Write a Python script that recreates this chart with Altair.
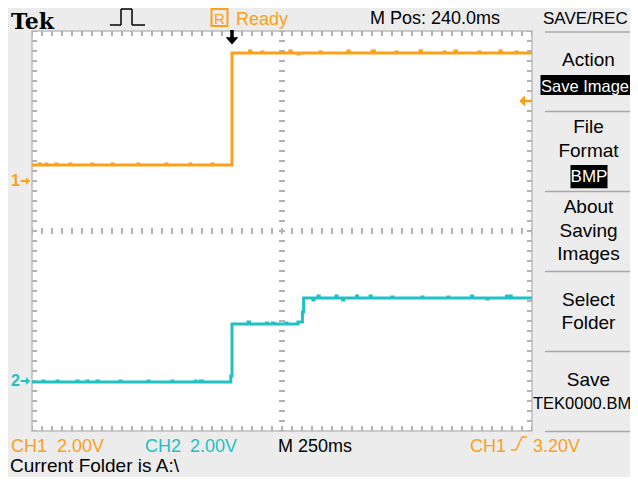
import altair as alt
import pandas as pd

TIME_DOMAIN = [-1000, 1500]          # ms, 250 ms/div, 10 div
DIV_DOMAIN = [0, 8]                  # vertical divisions
GRID_T = [-750, -500, -250, 0, 250, 500, 750, 1000, 1250]
GRID_DIV = [1, 2, 3, 4, 5, 6, 7]
VOLTS_PER_DIV = 2.0
CHANNELS = ["CH1", "CH2"]
GROUND_DIV = {"CH1": 5.0, "CH2": 1.0}
TRIG_TIME = [0]
TRIG_LEVEL_V = 3.2

ch1_t = [-1000, -962, -957, -930, -926, -880, -876, -810, -805, -700, -696,
         -600, -595, -470, -466, -330, -325, -210, -206, -100, -95,
         0, 88, 94, 150, 155, 290, 296, 330, 335, 440, 446, 580, 586,
         700, 712, 820, 826, 940, 948, 1060, 1066, 1115, 1122, 1235, 1240,
         1340, 1346, 1420, 1426, 1500]
ch1_v = [0.64, 0.68, 0.64, 0.68, 0.64, 0.68, 0.64, 0.68, 0.64, 0.68, 0.64,
         0.68, 0.64, 0.68, 0.64, 0.68, 0.64, 0.68, 0.64, 0.68, 0.64,
         5.12, 5.20, 5.12, 5.16, 5.12, 5.20, 5.12, 5.08, 5.12, 5.16, 5.12, 5.20, 5.12,
         5.20, 5.12, 5.16, 5.12, 5.20, 5.12, 5.16, 5.12, 5.20, 5.12, 5.16, 5.12,
         5.20, 5.12, 5.16, 5.12, 5.12]

ch2_t = [-1000, -945, -940, -875, -870, -775, -770, -725, -720, -675, -668,
         -560, -555, -420, -415, -300, -296, -185, -180, -160, -148, -6,
         0, 80, 88, 173, 178, 203, 210, 270, 275, 330, 352, 358,
         405, 410, 430, 436, 520, 525, 553, 558, 623, 628, 690, 696,
         800, 805, 950, 955, 1080, 1085, 1198, 1203, 1275, 1280,
         1373, 1378, 1390, 1396, 1500]
ch2_v = [-0.04, 0.00, -0.04, 0.00, -0.04, 0.00, -0.04, 0.00, -0.04, 0.00, -0.04,
         0.00, -0.04, 0.00, -0.04, 0.00, -0.04, 0.00, -0.04, 0.00, -0.04, 0.20,
         2.28, 2.36, 2.28, 2.32, 2.28, 2.32, 2.28, 2.32, 2.28, 2.36, 2.76, 3.32,
         3.24, 3.32, 3.40, 3.32, 3.40, 3.32, 3.24, 3.32, 3.40, 3.32, 3.40, 3.32,
         3.36, 3.32, 3.36, 3.32, 3.36, 3.32, 3.40, 3.32, 3.28, 3.32,
         3.40, 3.32, 3.40, 3.32, 3.32]

# ---------------- style ----------------
ORANGE = "#f9a11b"
CYAN = "#1fc1c3"
GRID = "#b2b2b2"
SEP = "#a8a8a8"
SANS = "Liberation Sans"
SERIF = "DejaVu Serif"
W, H = 500, 400
X0, Y0 = 32, 31          # page position of the graticule's top-left corner

RIGHT_ARROW = "M-1,-0.2L0,-0.2L0,-0.7L0.8,0L0,0.7L0,0.2L-1,0.2Z"
LEFT_ARROW = "M1,-0.2L0,-0.2L0,-0.85L-0.9,0L0,0.85L0,0.2L1,0.2Z"
DOWN_ARROW = "M-0.22,-1L0.22,-1L0.22,-0.1L0.8,-0.1L0,0.8L-0.8,-0.1L-0.22,-0.1Z"

rows = []
for ch, ts, vs in (("CH1", ch1_t, ch1_v), ("CH2", ch2_t, ch2_v)):
    for t, v in zip(ts, vs):
        rows.append({"ch": ch, "t": t, "v": v, "div": GROUND_DIV[ch] + v / VOLTS_PER_DIV})
traces_df = pd.DataFrame(rows)
ground_df = pd.DataFrame({"ch": CHANNELS, "label": ["1", "2"],
                          "div": [GROUND_DIV[c] for c in CHANNELS]})
trig_level_df = pd.DataFrame({"div": [GROUND_DIV["CH1"] + TRIG_LEVEL_V / VOLTS_PER_DIV]})
trig_time_df = pd.DataFrame({"t": TRIG_TIME})
dummy = pd.DataFrame({"a": [1]})

xs = alt.Scale(domain=TIME_DOMAIN, nice=False, zero=False)
ys = alt.Scale(domain=DIV_DOMAIN, nice=False, zero=False)
cs = alt.Scale(domain=CHANNELS, range=[ORANGE, CYAN])

grid_axis = dict(grid=True, labels=False, ticks=False, domain=False, title=None,
                 gridColor=GRID, gridWidth=2, gridDash=[2, 8], gridDashOffset=1)


def px(x):
    return alt.value(x - X0)


def py(y):
    return alt.value(y - Y0)


def label(txt, x, y, color="black", size=18, align="left", font=SANS, weight="normal"):
    return alt.Chart(dummy).mark_text(
        text=txt, align=align, baseline="alphabetic", fontSize=size, font=font,
        fontWeight=weight, color=color).encode(x=px(x), y=py(y))


def seg(x1, y1, x2, y2, color="black", width=1.5):
    return alt.Chart(dummy).mark_rule(color=color, strokeWidth=width).encode(
        x=px(x1), y=py(y1), x2=px(x2), y2=py(y2))


def box(x1, x2, y1, y2, fill="black", stroke=None, sw=0):
    kw = dict(fill=fill)
    if stroke:
        kw.update(stroke=stroke, strokeWidth=sw)
    return alt.Chart(dummy).mark_rect(**kw).encode(x=px(x1), x2=px(x2), y=py(y1), y2=py(y2))


layers = []

# graticule: edge ticks and centre cross ticks
dash = dict(strokeDash=[2, 8], strokeDashOffset=1, color=GRID)
layers.append(alt.Chart(dummy).mark_rule(strokeWidth=5, **dash).encode(
    x=alt.value(2.5), y=alt.value(0), y2=alt.value(H)))
layers.append(alt.Chart(dummy).mark_rule(strokeWidth=5, **dash).encode(
    x=alt.value(W - 2.5), y=alt.value(0), y2=alt.value(H)))
layers.append(alt.Chart(dummy).mark_rule(strokeWidth=5, **dash).encode(
    y=alt.value(2.5), x=alt.value(0), x2=alt.value(W)))
layers.append(alt.Chart(dummy).mark_rule(strokeWidth=5, **dash).encode(
    y=alt.value(H - 2.5), x=alt.value(0), x2=alt.value(W)))
layers.append(alt.Chart(dummy).mark_rule(strokeWidth=6, **dash).encode(
    x=alt.value(W / 2), y=alt.value(0), y2=alt.value(H)))
layers.append(alt.Chart(dummy).mark_rule(strokeWidth=6, **dash).encode(
    y=alt.value(H / 2), x=alt.value(0), x2=alt.value(W)))

# traces
layers.append(alt.Chart(traces_df).mark_line(
    interpolate="step-after", strokeWidth=3, strokeJoin="miter").encode(
    x=alt.X("t:Q", scale=xs, axis=alt.Axis(values=GRID_T, **grid_axis)),
    y=alt.Y("div:Q", scale=ys, axis=alt.Axis(values=GRID_DIV, **grid_axis)),
    color=alt.Color("ch:N", scale=cs, legend=None),
))

# ground markers
layers.append(alt.Chart(ground_df).mark_text(
    align="center", baseline="middle", fontSize=16, fontWeight="bold", font=SANS).encode(
    x=alt.value(15.5 - X0),
    y=alt.Y("div:Q", scale=ys, axis=None),
    text="label:N",
    color=alt.Color("ch:N", scale=cs, legend=None)))
layers.append(alt.Chart(ground_df).mark_point(
    shape=RIGHT_ARROW, filled=True, size=110, opacity=1, strokeWidth=0).encode(
    x=alt.value(26 - X0),
    y=alt.Y("div:Q", scale=ys, axis=None),
    color=alt.Color("ch:N", scale=cs, legend=None)))

# trigger level / position
layers.append(alt.Chart(trig_level_df).mark_point(
    shape=LEFT_ARROW, filled=True, size=169, opacity=1, strokeWidth=0, color=ORANGE).encode(
    x=alt.value(W - 7), y=alt.Y("div:Q", scale=ys, axis=None)))
layers.append(alt.Chart(trig_time_df).mark_point(
    shape=DOWN_ARROW, filled=True, size=256, opacity=1, strokeWidth=0, color="black").encode(
    x=alt.X("t:Q", scale=xs, axis=None), y=alt.value(7)))

# ---------------- top bar ----------------
layers.append(label("Tek", 11, 28.5, size=22, font=SERIF, weight="bold"))
layers += [seg(110, 25, 121, 25), seg(121, 25, 121, 9), seg(121, 9, 132, 9),
           seg(132, 9, 132, 25), seg(132, 25, 145, 25)]
layers.append(box(211.5, 227.5, 9, 26, fill="none", stroke=ORANGE, sw=2))
layers.append(label("R", 219.5, 23.5, color=ORANGE, size=15, align="center"))
layers.append(label("Ready", 236, 24.5, color=ORANGE))
layers.append(label("M Pos: 240.0ms", 370, 23.5))
layers.append(label("SAVE/REC", 543, 23.5, size=17))

# ---------------- side menu ----------------
for ysep in [32, 111.5, 191.5, 271.5, 351.5, 431.5]:
    layers.append(seg(545, ysep, 640, ysep, color=SEP, width=1.5))
MC = 588.5
layers.append(label("Action", MC, 66, size=19, align="center"))
layers.append(box(540.5, 640, 75, 95))
layers.append(label("Save Image", 541, 91.5, color="white", size=16.5))
layers.append(label("File", MC, 133, size=19, align="center"))
layers.append(label("Format", MC, 157, size=19, align="center"))
layers.append(box(570.5, 607.5, 165, 188.3))
layers.append(label("BMP", 589, 182, color="white", size=17, align="center"))
layers.append(label("About", MC, 213, size=19, align="center"))
layers.append(label("Saving", MC, 237, size=19, align="center"))
layers.append(label("Images", MC, 260, size=19, align="center"))
layers.append(label("Select", MC, 306, size=19, align="center"))
layers.append(label("Folder", MC, 329, size=19, align="center"))
layers.append(label("Save", MC, 386, size=19, align="center"))
layers.append(label("TEK0000.BM", 533, 409, size=16.5))

# ---------------- bottom status ----------------
layers.append(label("CH1", 11, 451.5, color=ORANGE))
layers.append(label("2.00V", 57, 451.5, color=ORANGE))
layers.append(label("CH2", 145, 451.5, color=CYAN))
layers.append(label("2.00V", 190, 451.5, color=CYAN))
layers.append(label("M 250ms", 278, 451.5))
layers.append(label("CH1", 470, 451.5, color=ORANGE))
layers += [seg(511, 450, 516, 450, color=ORANGE), seg(516, 450, 522, 437, color=ORANGE),
           seg(522, 437, 527, 437, color=ORANGE)]
layers.append(label("3.20V", 533, 451.5, color=ORANGE))
layers.append(label("Current Folder is A:\\", 10, 471.5, size=19))

# whole chart = 622 x 469 so that the page (8px margin) fits the 638x485 window
chart = alt.layer(*layers).properties(
    width=W, height=H,
    autosize=alt.AutoSizeParams(type="none"),
    padding={"left": 24, "top": 23, "right": 98, "bottom": 46},
).configure(background="#ececec").configure_view(
    fill="white", stroke="#bcbcbc", strokeWidth=1.5)

chart.save("out.html", embed_options={"renderer": "svg", "actions": False})
